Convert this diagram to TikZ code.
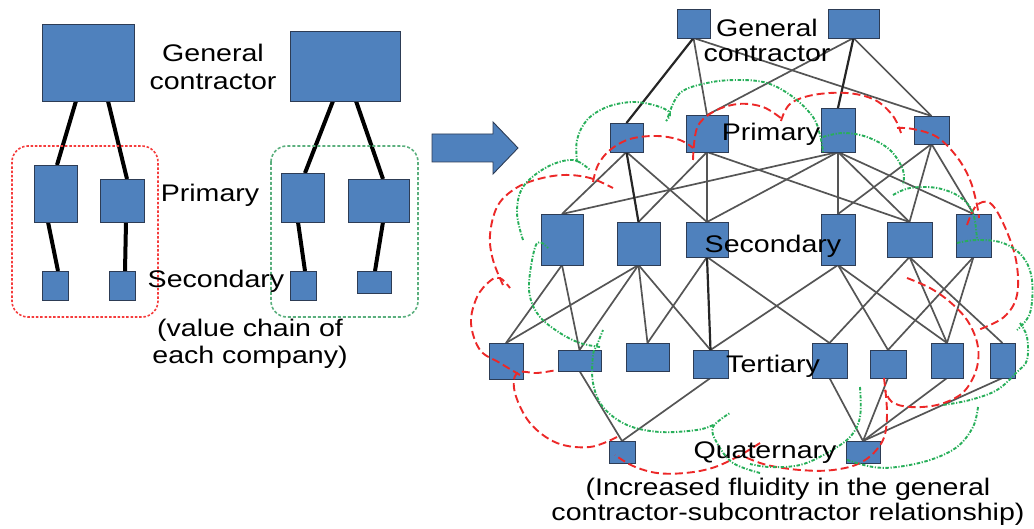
\documentclass[tikz,border=0pt]{standalone}
\usepackage{fontspec}
\newfontfamily\lbfont[FakeStretch=1.19]{Liberation Sans}
\usetikzlibrary{shadows}
\pgfdeclarelayer{bg}
\pgfsetlayers{bg,main}

\definecolor{boxblue}{RGB}{79,129,189}
\definecolor{boxedge}{RGB}{45,60,85}
\definecolor{linkgray}{RGB}{85,85,85}
\definecolor{cloudred}{RGB}{236,40,40}
\definecolor{cloudgreen}{RGB}{40,175,90}
\definecolor{framered}{RGB}{245,60,60}
\definecolor{framegreen}{RGB}{90,175,125}

% block node from its corner coordinates (x1,y1) (x2,y2)
\newcommand{\blkat}[5]{%
  \node[blk, minimum width={(#4-#2)*1pt}, minimum height={(#5-#3)*1pt}]
    (#1) at ({(#2+#4)/2},{(#3+#5)/2}) {};}

\begin{document}
\begin{tikzpicture}[x=1pt,y=-1pt,
  blk/.style={fill=boxblue, draw=boxedge, line width=0.9pt, inner sep=0pt, outer sep=0pt,
    general shadow={fill=black!55, shadow xshift=1.2pt, shadow yshift=-1.2pt}},
  lbl/.style={font=\lbfont\fontsize{24}{25}\selectfont, align=center, inner sep=0pt, text=black},
  lblw/.style={font=\lbfont\fontsize{24}{28}\selectfont, align=center, inner sep=0pt, text=black},
  lnk/.style={draw=linkgray, line width=1.7pt},
  lnkd/.style={draw=black!85, line width=2.2pt},
  tie/.style={draw=black, line width=4pt},
  redframe/.style={draw=framered, line width=1.6pt, dash pattern=on 2.5pt off 1.8pt, rounded corners=16pt},
  greenframe/.style={draw=framegreen, line width=1.6pt, dash pattern=on 3pt off 2pt, rounded corners=16pt},
  rcloud/.style={draw=cloudred, line width=1.9pt, dash pattern=on 8pt off 4pt},
  gcloud/.style={draw=cloudgreen, line width=1.9pt, dash pattern=on 3.5pt off 1.6pt on 1.2pt off 1.6pt}]

\useasboundingbox (0,0) rectangle (1034,529);

% ---------------- left: separate value chains ----------------
\blkat{gcl}{42}{24}{134}{101}
\blkat{gcr}{290}{31}{400}{101}
\blkat{pl1}{34}{165}{77}{222}
\blkat{pl2}{100}{179}{144}{222}
\blkat{pr1}{281}{173}{324}{222}
\blkat{pr2}{348}{179}{409}{222}
\blkat{sl1}{42}{271}{68}{300}
\blkat{sl2}{109}{271}{135}{300}
\blkat{sr1}{290}{271}{316}{300}
\blkat{sr2}{357}{271}{391}{293}

\begin{pgfonlayer}{bg}
  \draw[tie] ([xshift=-12pt]gcl.south) -- ([xshift=1.5pt]pl1.north);
  \draw[tie] ([xshift=20pt]gcl.south) -- ([xshift=5pt]pl2.north);
  \draw[tie] ([xshift=-7.5pt]pl1.south) -- ([xshift=3pt]sl1.north);
  \draw[tie] ([xshift=4pt]pl2.south) -- ([xshift=3pt]sl2.north);
  \draw[tie] ([xshift=-12pt]gcr.south) -- ([xshift=2.5pt]pr1.north);
  \draw[tie] ([xshift=11pt]gcr.south) -- ([xshift=4.5pt]pr2.north);
  \draw[tie] ([xshift=-4.5pt]pr1.south) -- ([xshift=2pt]sr1.north);
  \draw[tie] ([xshift=4.5pt]pr2.south) -- ([xshift=1pt]sr2.north);
\end{pgfonlayer}

\draw[redframe] (12,146) rectangle (158,317);
\draw[greenframe] (271,146) rectangle (418,317);

\node[lblw] (lgc) at (213,67) {General\\contractor};
\node[lbl] (lpri) at (210,195) {Primary};
\node[lbl] (lsec) at (216,281) {Secondary};
\node[font=\lbfont\fontsize{24}{27}\selectfont, align=center, inner sep=0pt] (lcap) at (250,344) {(value chain of\\each company)};

% ---------------- arrow ----------------
\draw[fill=boxblue, draw=boxedge, line width=0.9pt]
  (432,134) -- (493,134) -- (493,122) -- (518,148) -- (493,174) -- (493,162) -- (432,162) -- cycle;

% ---------------- right: interlinked network ----------------
\blkat{gc1}{677}{9}{710}{38}
\blkat{gc2}{828}{9}{879}{38}
\blkat{p1}{610}{123}{643}{152}
\blkat{p2}{686}{115}{728}{152}
\blkat{p3}{821}{108}{855}{152}
\blkat{p4}{914}{116}{949}{144}
\blkat{s1}{541}{214}{583}{265}
\blkat{s2}{617}{222}{660}{265}
\blkat{s3}{686}{222}{728}{257}
\blkat{s4}{821}{214}{855}{265}
\blkat{s5}{887}{222}{932}{257}
\blkat{s6}{956}{214}{991}{257}
\blkat{t1}{489}{343}{523}{379}
\blkat{t2}{558}{350}{601}{371}
\blkat{t3}{626}{343}{669}{371}
\blkat{t4}{693}{350}{728}{378}
\blkat{t5}{812}{343}{847}{378}
\blkat{t6}{870}{350}{906}{378}
\blkat{t7}{931}{343}{963}{378}
\blkat{t8}{990}{343}{1015}{378}
\blkat{q1}{609}{441}{635}{463}
\blkat{q2}{846}{441}{880}{463}

\begin{pgfonlayer}{bg}
  \foreach \a/\b in {gc1/p2, gc1/p4, gc2/p2, gc2/p4,
                     p1/s1, p1/s3, p2/s2, p2/s3, p2/s5,
                     p3/s1, p3/s3, p3/s4, p3/s5, p3/s6,
                     p4/s4, p4/s5, p4/s6,
                     s1/t1, s1/t2, s2/t1, s2/t2, s2/t3, s2/t4,
                     s3/t3, s3/t5, s4/t4, s4/t6, s4/t7,
                     s5/t5, s5/t7, s5/t8, s6/t6, s6/t7,
                     t2/q1, t4/q1, t5/q2, t6/q2, t7/q2, t8/q2}
    \draw[lnk] (\a.south) -- (\b.north);
  \foreach \a/\b in {gc1/p1, gc2/p3, p1/s2, s3/t4}
    \draw[lnkd] (\a.south) -- (\b.north);
\end{pgfonlayer}

% red cloud outline
\draw[rcloud] plot[smooth, tension=0.6] coordinates {(593,182) (598,165) (610,150) (630,139) (657,136) (680,140) (693,148)};
\draw[rcloud] plot[smooth, tension=0.6] coordinates {(693,160) (697,128) (713,112) (738,104) (763,107) (782,119)};
\draw[rcloud] plot[smooth, tension=0.6] coordinates {(781,121) (790,104) (813,95) (847,93) (875,100) (893,116) (901,133)};
\draw[rcloud] plot[smooth, tension=0.6] coordinates {(897,128) (913,129) (937,137) (957,157) (970,180) (977,205) (979,218)};
\draw[rcloud] plot[smooth, tension=0.6] coordinates {(967,225) (976,206) (990,203) (1004,225) (1016,260) (1017,295) (1004,317) (978,330)};
\draw[rcloud] plot[smooth, tension=0.6] coordinates {(907,278) (930,288) (950,302) (967,320) (977,342) (978,362) (972,380) (960,395) (937,405) (910,407) (892,402) (885,390)};
\draw[rcloud] plot[smooth, tension=0.6] coordinates {(884,378) (887,415) (882,442) (862,462) (833,470) (800,470) (767,465) (745,457)};
\draw[rcloud] plot[smooth, tension=0.6] coordinates {(760,443) (737,457) (712,468) (685,473) (657,473) (633,466) (615,455)};
\draw[rcloud] plot[smooth, tension=0.6] coordinates {(617,437) (590,447) (557,443) (530,423) (515,393) (517,373) (537,373) (557,370)};
\draw[rcloud] plot[smooth, tension=0.6] coordinates {(520,375) (500,363) (480,350) (471,323) (477,297) (490,281) (500,278) (510,288)};
\draw[rcloud] plot[smooth, tension=0.6] coordinates {(503,285) (493,260) (490,235) (497,207) (513,190) (535,180) (563,175) (590,178) (613,188)};

% green cloud outline
\draw[gcloud] plot[smooth, tension=0.6] coordinates {(577,162) (577,140) (587,120) (607,107) (633,102) (657,106) (670,113) (666,121)};
\draw[gcloud] plot[smooth, tension=0.6] coordinates {(668,117) (680,93) (707,83) (737,80) (767,83) (793,97) (813,117) (820,135) (823,152)};
\draw[gcloud] plot[smooth, tension=0.6] coordinates {(823,137) (843,133) (867,137) (890,150) (903,170) (903,185)};
\draw[gcloud] plot[smooth, tension=0.6] coordinates {(893,195) (910,188) (937,188) (960,197) (973,213) (977,240)};
\draw[gcloud] plot[smooth, tension=0.6] coordinates {(957,243) (977,240) (1003,243) (1023,257) (1032,280) (1030,313) (1017,330)};
\draw[gcloud] plot[smooth, tension=0.6] coordinates {(1020,323) (1027,337) (1027,360) (1017,372) (997,390) (970,400) (943,405)};
\draw[gcloud] plot[smooth, tension=0.6] coordinates {(978,407) (973,427) (957,447) (930,460) (897,467) (873,467) (847,460)};
\draw[gcloud] plot[smooth, tension=0.6] coordinates {(860,387) (860,417) (850,437) (827,453) (800,465) (770,467) (750,464)};
\draw[gcloud] plot[smooth, tension=0.6] coordinates {(760,473) (733,463) (717,443) (713,427) (730,413)};
\draw[gcloud] plot[smooth, tension=0.6] coordinates {(713,425) (697,430) (660,432) (627,425) (603,407) (593,383) (593,355) (597,345) (603,330)};
\draw[gcloud] plot[smooth, tension=0.6] coordinates {(600,347) (580,343) (560,333) (540,317) (530,297) (530,273) (537,243) (548,248)};
\draw[gcloud] plot[smooth, tension=0.6] coordinates {(523,240) (517,213) (523,187) (547,167) (573,160) (590,170)};

% level labels
\node[lbl] (rgc) at (767,40) {General\\contractor};
\node[lbl] (rpri) at (771,134) {Primary};
\node[lbl] (rsec) at (773,246) {Secondary};
\node[lbl] (rter) at (773,366) {Tertiary};
\node[lbl] (rqua) at (765,453) {Quaternary};
\node[lbl] (rcap) at (788,502) {(Increased fluidity in the general\\contractor-subcontractor relationship)};

\end{tikzpicture}
\end{document}
